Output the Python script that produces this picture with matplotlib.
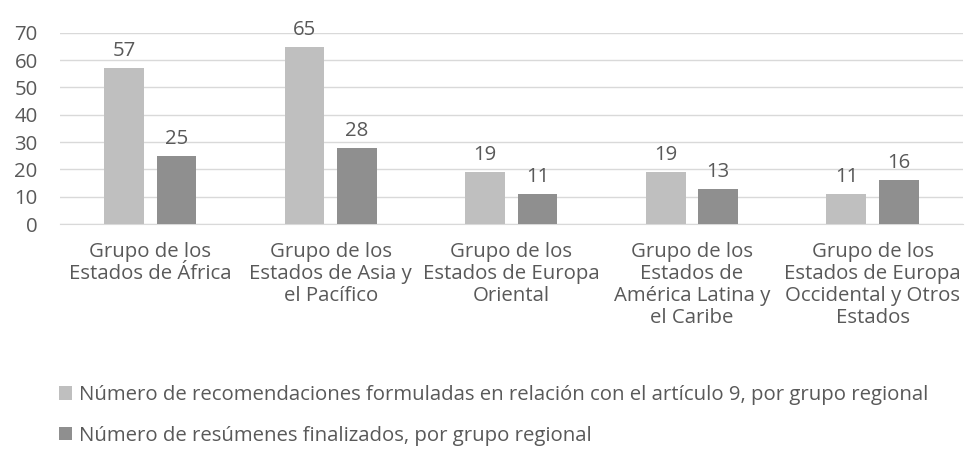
import matplotlib
matplotlib.use("Agg")
import matplotlib.pyplot as plt
import numpy as np

plt.rcParams['font.family'] = ['Open Sans', 'DejaVu Sans']

categories = [
    "Grupo de los\nEstados de África",
    "Grupo de los\nEstados de Asia y\nel Pacífico",
    "Grupo de los\nEstados de Europa\nOriental",
    "Grupo de los\nEstados de\nAmérica Latina y\nel Caribe",
    "Grupo de los\nEstados de Europa\nOccidental y Otros\nEstados",
]
series_names = [
    "Número de recomendaciones formuladas en relación con el artículo 9, por grupo regional",
    "Número de resúmenes finalizados, por grupo regional",
]
recomendaciones = [57, 65, 19, 19, 11]
resumenes = [25, 28, 11, 13, 16]
yticks = [0, 10, 20, 30, 40, 50, 60, 70]

text_color = "#595959"
colors = ["#BFBFBF", "#8F8F8F"]
fs = 14.7

fig = plt.figure(figsize=(9.75, 4.5), dpi=100)
ax = fig.add_axes([0.0615, 0.502, 0.926, 0.425])

x = np.arange(len(categories))
w = 0.22
off = 0.145
b1 = ax.bar(x - off, recomendaciones, w, color=colors[0], label=series_names[0], zorder=3)
b2 = ax.bar(x + off, resumenes, w, color=colors[1], label=series_names[1], zorder=3)

for bars in (b1, b2):
    for r in bars:
        ax.annotate(f"{int(r.get_height())}", (r.get_x() + r.get_width() / 2, r.get_height()),
                    xytext=(0, 5), textcoords="offset points", ha="center", va="bottom",
                    fontsize=fs, color=text_color)

ax.set_xlim(-0.5, len(categories) - 0.5)
ax.set_ylim(0, 70)
ax.set_yticks(yticks)
ax.yaxis.grid(True, color="#D9D9D9", linewidth=1, zorder=0)
ax.set_axisbelow(True)
for s in ["top", "right", "left"]:
    ax.spines[s].set_visible(False)
ax.spines["bottom"].set_color("#D9D9D9")
ax.tick_params(axis="both", length=0, labelsize=fs, colors=text_color)
ax.tick_params(axis="y", pad=16)
ax.tick_params(axis="x", pad=13)
ax.set_xticks(x)
ax.set_xticklabels(categories, linespacing=1.14)

leg = fig.legend(handles=[b1, b2], labels=series_names, loc="upper left",
                 bbox_to_anchor=(0.052, 0.162), frameon=False, fontsize=fs,
                 handlelength=0.62, handleheight=0.62, handletextpad=0.35,
                 labelspacing=1.0, labelcolor=text_color, borderaxespad=0)

fig.savefig("out.png", dpi=100)
